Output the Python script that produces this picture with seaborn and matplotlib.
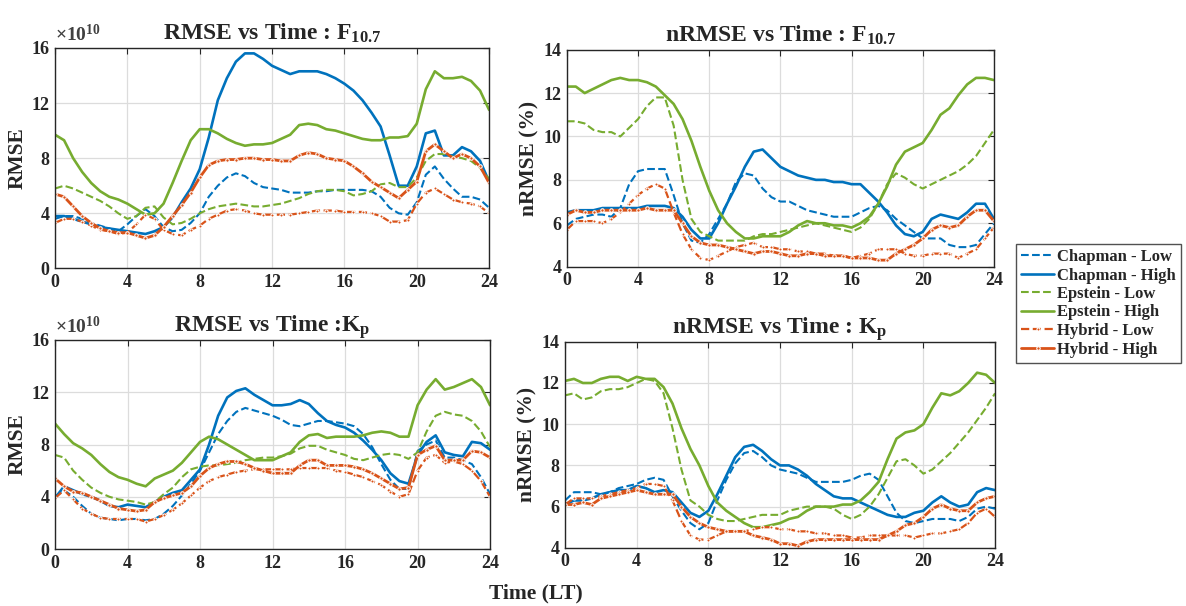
import numpy as np
import pandas as pd
import matplotlib
matplotlib.use("Agg")
import matplotlib.pyplot as plt
import seaborn as sns

# ---------------- data (half-hour steps, 0 .. 24 LT) ----------------
time_lt = np.arange(0, 24.5, 0.5)
series_names = ["Chapman - Low", "Chapman - High", "Epstein - Low",
                "Epstein - High", "Hybrid - Low", "Hybrid - High"]

# Panel 1: RMSE vs Time : F10.7  (x 1e10)
p1_chap_low = [3.6,3.8,3.8,3.6,3.3,3.1,2.9,2.7,3.2,3.8,
               4.3,3.8,3.0,2.7,2.8,3.3,4.0,5.2,6.0,6.6,
               6.9,6.7,6.2,5.9,5.8,5.7,5.5,5.5,5.5,5.6,
               5.6,5.7,5.7,5.7,5.7,5.6,5.2,4.4,4.0,3.9,
               4.8,6.8,7.4,6.5,5.8,5.2,5.2,5.0,4.4]
p1_chap_high = [3.8,3.8,3.6,3.4,3.2,3.0,2.9,2.8,2.7,2.6,
                2.5,2.7,3.0,3.7,4.8,5.8,7.2,9.5,12.2,13.8,
                15.0,15.6,15.6,15.2,14.7,14.4,14.1,14.3,14.3,14.3,
                14.1,13.8,13.4,12.9,12.2,11.3,10.3,8.2,6.0,6.0,
                7.4,9.8,10.0,8.2,8.2,8.8,8.5,7.8,6.3]
p1_eps_low = [5.8,6.0,5.8,5.5,5.2,4.9,4.5,4.0,3.6,3.8,
              4.4,4.5,3.7,3.2,3.3,3.6,4.0,4.3,4.5,4.6,
              4.7,4.6,4.5,4.5,4.6,4.7,4.9,5.1,5.4,5.6,
              5.7,5.7,5.6,5.3,5.4,5.6,6.1,6.2,5.9,5.9,
              6.6,7.8,8.3,8.3,8.1,8.0,7.8,7.3,6.5]
p1_eps_high = [9.7,9.3,8.0,7.0,6.2,5.6,5.2,5.0,4.7,4.3,
               3.9,4.0,4.7,6.2,7.8,9.3,10.1,10.1,9.8,9.4,
               9.1,8.9,9.0,9.0,9.1,9.4,9.7,10.4,10.5,10.4,
               10.1,10.0,9.8,9.6,9.4,9.3,9.3,9.5,9.5,9.6,
               10.5,13.0,14.3,13.8,13.8,13.9,13.6,12.9,11.5]
p1_hyb_low = [3.3,3.6,3.6,3.4,3.1,2.8,2.7,2.5,2.6,3.2,
              3.9,3.6,2.8,2.5,2.4,2.8,3.1,3.6,3.9,4.2,
              4.3,4.2,4.0,3.9,3.9,3.9,3.9,4.0,4.1,4.2,
              4.2,4.2,4.1,4.1,4.1,4.0,3.8,3.4,3.4,3.5,
              4.7,5.5,5.8,5.4,5.0,4.8,4.7,4.5,4.0]
p1_hyb_high = [5.4,5.2,4.5,3.8,3.3,2.9,2.7,2.6,2.6,2.4,
               2.2,2.4,3.0,3.8,4.6,5.5,6.6,7.5,7.8,7.9,
               7.9,8.0,8.0,7.9,7.9,7.8,7.8,8.2,8.4,8.3,
               8.0,7.9,7.8,7.4,6.9,6.3,5.9,5.5,5.1,5.7,
               6.3,8.5,9.0,8.5,8.0,8.3,8.0,7.4,6.2]

# Panel 2: nRMSE vs Time : F10.7  (%)
p2_chap_low = [5.9,6.2,6.3,6.4,6.4,6.3,6.7,7.8,8.4,8.5,
               8.5,8.5,7.3,6.0,5.2,5.1,5.5,6.2,6.9,7.9,
               8.3,8.2,7.6,7.2,7.0,7.0,6.8,6.6,6.5,6.4,
               6.3,6.3,6.3,6.5,6.7,6.8,6.6,6.2,5.9,5.6,
               5.3,5.3,5.3,5.0,4.9,4.9,5.0,5.5,6.0]
p2_chap_high = [6.5,6.6,6.6,6.6,6.7,6.7,6.7,6.7,6.7,6.8,
                6.8,6.8,6.7,6.3,5.7,5.3,5.3,6.0,6.9,7.7,
                8.6,9.3,9.4,9.0,8.6,8.4,8.2,8.1,8.0,8.0,
                7.9,7.9,7.8,7.8,7.4,7.0,6.5,5.9,5.5,5.4,
                5.6,6.2,6.4,6.3,6.2,6.5,6.9,6.9,6.2]
p2_eps_low = [10.7,10.7,10.6,10.3,10.2,10.2,10.0,10.4,10.8,11.4,
              11.8,11.8,10.5,8.0,6.2,5.6,5.4,5.2,5.2,5.2,
              5.2,5.4,5.5,5.5,5.6,5.7,5.8,5.9,6.0,5.9,
              5.8,5.7,5.6,5.8,6.2,6.9,7.8,8.3,8.1,7.8,
              7.6,7.8,8.0,8.2,8.4,8.7,9.1,9.7,10.3]
p2_eps_high = [12.3,12.3,12.0,12.2,12.4,12.6,12.7,12.6,12.6,12.5,
               12.3,11.9,11.5,10.8,9.8,8.6,7.5,6.6,6.0,5.6,
               5.3,5.3,5.4,5.4,5.4,5.6,5.9,6.1,6.0,6.0,
               5.9,5.9,5.8,6.0,6.3,6.9,7.7,8.7,9.3,9.5,
               9.7,10.3,11.0,11.3,11.9,12.4,12.7,12.7,12.6]
p2_hyb_low = [5.7,6.1,6.1,6.1,6.0,6.2,6.5,6.9,7.3,7.6,
              7.8,7.6,6.5,5.5,4.8,4.4,4.3,4.5,4.7,4.9,
              5.0,5.1,4.9,4.9,4.8,4.8,4.7,4.7,4.6,4.6,
              4.5,4.5,4.4,4.5,4.6,4.8,4.8,4.8,4.6,4.5,
              4.5,4.6,4.6,4.6,4.4,4.6,4.8,5.3,5.8]
p2_hyb_high = [6.4,6.6,6.5,6.5,6.6,6.6,6.6,6.6,6.6,6.7,
               6.6,6.6,6.6,6.0,5.4,5.1,5.0,5.0,4.9,4.8,
               4.7,4.6,4.7,4.7,4.6,4.5,4.5,4.6,4.6,4.5,
               4.5,4.5,4.4,4.4,4.4,4.3,4.3,4.6,4.8,5.0,
               5.3,5.7,5.9,5.8,5.9,6.3,6.6,6.6,6.1]

# Panel 3: RMSE vs Time : Kp  (x 1e10)
p3_chap_low = [4.0,4.5,4.0,3.3,2.7,2.4,2.3,2.2,2.3,2.3,
               2.2,2.3,2.7,3.3,4.1,5.0,6.0,7.4,8.8,9.8,
               10.5,10.8,10.6,10.4,10.2,9.9,9.5,9.4,9.6,9.8,
               9.8,9.7,9.6,9.4,8.8,7.8,6.5,5.3,4.6,4.6,
               7.5,8.0,8.3,7.0,7.0,6.8,6.5,5.5,4.2]
p3_chap_high = [3.9,4.8,4.5,4.2,4.0,3.7,3.3,3.2,3.4,3.3,
                3.2,3.6,4.0,4.3,4.5,5.3,6.1,8.0,10.2,11.6,
                12.1,12.3,11.8,11.4,11.0,11.0,11.1,11.4,11.1,10.4,
                9.8,9.5,9.3,8.9,8.3,7.6,6.8,5.8,5.2,5.0,
                7.2,8.2,8.7,7.4,7.2,7.1,8.2,8.1,7.6]
p3_eps_low = [7.2,7.0,6.0,5.3,4.7,4.3,4.0,3.8,3.7,3.6,
              3.4,3.6,4.2,4.7,5.5,6.1,6.3,6.4,6.4,6.5,
              6.6,6.8,6.9,7.0,7.0,7.1,7.3,7.7,7.9,7.9,
              7.6,7.4,7.2,6.9,6.8,7.0,7.2,7.3,7.2,6.9,
              7.4,9.0,10.2,10.5,10.3,10.2,9.8,9.0,7.8]
p3_eps_high = [9.6,8.8,8.1,7.7,7.2,6.5,5.9,5.5,5.3,5.0,
               4.8,5.4,5.7,6.0,6.6,7.4,8.2,8.6,8.4,8.0,
               7.6,7.2,6.8,6.8,6.8,7.1,7.4,8.2,8.7,8.8,
               8.5,8.6,8.6,8.6,8.7,8.9,9.0,8.9,8.6,8.6,
               11.0,12.2,13.0,12.2,12.4,12.7,13.0,12.4,11.0]
p3_hyb_low = [3.9,4.5,3.8,3.1,2.7,2.4,2.3,2.3,2.3,2.3,
              2.1,2.3,2.6,3.0,3.5,4.1,4.7,5.2,5.5,5.7,
              5.9,6.0,6.1,6.1,6.1,6.1,6.1,6.2,6.2,6.2,
              6.2,6.0,5.9,5.7,5.5,5.2,4.9,4.4,4.0,4.2,
              6.0,7.0,7.2,6.6,6.7,6.5,6.0,5.2,4.0]
p3_hyb_high = [5.4,4.8,4.4,4.3,4.0,3.7,3.4,3.1,3.0,2.9,
               3.0,3.6,3.9,4.1,4.3,4.8,5.6,6.2,6.5,6.7,
               6.7,6.5,6.2,6.0,5.8,5.8,5.8,6.4,6.8,6.8,
               6.4,6.4,6.4,6.3,6.1,5.8,5.4,5.0,4.6,4.7,
               7.2,7.6,7.9,6.8,6.8,6.8,7.5,7.4,7.0]

# Panel 4: nRMSE vs Time : Kp  (%)
p4_chap_low = [6.3,6.7,6.7,6.7,6.6,6.7,6.9,7.0,7.1,7.3,
               7.4,7.3,6.5,5.8,5.2,4.9,5.2,6.3,7.3,8.1,
               8.6,8.7,8.4,8.0,7.8,7.7,7.6,7.4,7.2,7.2,
               7.2,7.2,7.3,7.5,7.6,7.3,6.5,5.7,5.3,5.2,
               5.3,5.4,5.4,5.4,5.3,5.5,5.9,6.0,5.9]
p4_chap_high = [6.1,6.3,6.3,6.4,6.6,6.7,6.8,6.8,7.0,6.9,
                6.7,6.8,6.7,6.2,5.7,5.5,5.8,6.6,7.5,8.4,
                8.9,9.0,8.7,8.3,8.0,8.0,7.8,7.5,7.1,6.8,
                6.5,6.4,6.4,6.2,6.0,5.8,5.6,5.5,5.5,5.7,
                5.8,6.2,6.5,6.2,6.0,6.1,6.7,6.9,6.8]
p4_eps_low = [11.4,11.5,11.2,11.3,11.6,11.7,11.7,11.8,12.0,12.2,
              12.1,11.5,9.8,7.8,6.3,6.0,5.6,5.4,5.3,5.3,
              5.4,5.5,5.6,5.6,5.6,5.8,5.9,6.0,6.0,6.0,
              5.9,5.6,5.4,5.6,6.0,6.6,7.4,8.2,8.3,8.0,
              7.6,7.8,8.2,8.6,9.1,9.6,10.2,10.8,11.5]
p4_eps_high = [12.1,12.2,12.0,12.0,12.2,12.3,12.3,12.1,12.3,12.2,
               12.2,11.8,11.0,9.8,8.8,8.0,7.0,6.2,5.8,5.5,
               5.2,5.0,5.0,5.1,5.2,5.4,5.5,5.8,6.0,6.0,
               6.0,6.1,6.1,6.3,6.7,7.2,8.3,9.3,9.6,9.7,
               10.0,10.8,11.5,11.4,11.6,12.0,12.5,12.4,12.0]
p4_hyb_low = [6.1,6.4,6.4,6.4,6.5,6.6,6.7,6.8,6.9,7.1,
              7.1,7.0,6.3,5.3,4.6,4.4,4.4,4.6,4.8,4.8,
              4.8,4.9,5.0,5.0,4.9,4.9,4.8,4.8,4.7,4.7,
              4.6,4.6,4.5,4.5,4.6,4.6,4.6,4.6,4.6,4.5,
              4.6,4.7,4.7,4.8,4.9,5.2,5.7,5.9,5.5]
p4_hyb_high = [6.1,6.1,6.2,6.1,6.4,6.5,6.6,6.7,6.8,6.7,
               6.6,6.6,6.6,6.0,5.5,5.2,5.0,4.9,4.8,4.8,
               4.8,4.6,4.5,4.4,4.2,4.2,4.1,4.3,4.4,4.4,
               4.4,4.4,4.4,4.4,4.4,4.4,4.6,4.8,5.1,5.2,
               5.5,5.9,6.1,5.9,5.8,5.8,6.2,6.4,6.5]

x_ticks = [0, 4, 8, 12, 16, 20, 24]
rmse_ticks = [0, 4, 8, 12, 16]
nrmse_ticks = [4, 6, 8, 10, 12, 14]

titles = [r"RMSE vs Time : F$_{\mathbf{10.7}}$",
          r"nRMSE vs Time : F$_{\mathbf{10.7}}$",
          r"RMSE vs Time :K$_{\mathbf{p}}$",
          r"nRMSE vs Time : K$_{\mathbf{p}}$"]

panels = [
    [p1_chap_low, p1_chap_high, p1_eps_low, p1_eps_high, p1_hyb_low, p1_hyb_high],
    [p2_chap_low, p2_chap_high, p2_eps_low, p2_eps_high, p2_hyb_low, p2_hyb_high],
    [p3_chap_low, p3_chap_high, p3_eps_low, p3_eps_high, p3_hyb_low, p3_hyb_high],
    [p4_chap_low, p4_chap_high, p4_eps_low, p4_eps_high, p4_hyb_low, p4_hyb_high],
]

# ---------------- styles ----------------
BLUE, GREEN, RED = "#0072BD", "#77AC30", "#D95319"
styles = [
    dict(color=BLUE, linestyle="--", linewidth=1.5),
    dict(color=BLUE, linestyle="-", linewidth=1.9),
    dict(color=GREEN, linestyle="--", linewidth=1.5),
    dict(color=GREEN, linestyle="-", linewidth=1.9),
    dict(color=RED, linestyle="--", linewidth=1.6, marker=".", markersize=4.5),
    dict(color=RED, linestyle="-", linewidth=2.0, marker=".", markersize=5),
]

sns.set_theme(style="white")
plt.rcParams["font.family"] = ["Liberation Serif", "DejaVu Serif"]
plt.rcParams["font.weight"] = "bold"
plt.rcParams["mathtext.fontset"] = "custom"
plt.rcParams["mathtext.rm"] = "Liberation Serif"
plt.rcParams["mathtext.bf"] = "Liberation Serif:bold"
plt.rcParams["mathtext.it"] = "Liberation Serif:italic"

fig = plt.figure(figsize=(11.86, 6.06), dpi=100)
positions = [
    [0.0464, 0.557, 0.3660, 0.364],
    [0.4780, 0.560, 0.3600, 0.358],
    [0.0464, 0.094, 0.3668, 0.345],
    [0.4764, 0.096, 0.3626, 0.340],
]

axes = []
for i, (pos, data) in enumerate(zip(positions, panels)):
    ax = fig.add_axes(pos)
    axes.append(ax)
    for name, vals, st in zip(series_names, data, styles):
        df = pd.DataFrame({"Time": time_lt, "Value": vals})
        sns.lineplot(data=df, x="Time", y="Value", ax=ax, label=name, **st)
    ax.set_xlim(0, 24)
    ax.set_xticks(x_ticks)
    if i in (0, 2):
        ax.set_ylim(0, 16)
        ax.set_yticks(rmse_ticks)
        ax.set_ylabel("RMSE", fontsize=15.5, fontweight="bold", labelpad=3)
        ax.text(0.0, 1.012, r"$\times10^{10}$", transform=ax.transAxes,
                fontsize=14, color="#404040", ha="left", va="bottom")
    else:
        ax.set_ylim(4, 14)
        ax.set_yticks(nrmse_ticks)
        ax.set_ylabel("nRMSE (%)", fontsize=15.5, fontweight="bold", labelpad=3)
    ax.set_xlabel("")
    ax.set_title(titles[i], fontsize=17, fontweight="bold", pad=6)
    ax.grid(True, color="#dcdcdc", linewidth=0.9)
    ax.tick_params(direction="in", top=True, right=True, length=4,
                   labelsize=13, width=0.8, color="#262626", pad=4)
    for lab in ax.get_xticklabels() + ax.get_yticklabels():
        lab.set_fontweight("bold")
    for sp in ax.spines.values():
        sp.set_color("#262626")
        sp.set_linewidth(1.0)
    ax.get_legend().remove()

handles, labels = axes[0].get_legend_handles_labels()
leg = fig.legend(handles, labels, loc="upper left",
                 bbox_to_anchor=(1016 / 1186, 1 - 244 / 606),
                 fontsize=12, frameon=True, fancybox=False,
                 handlelength=2.0, handletextpad=0.15, labelspacing=0.15,
                 borderpad=0.3, borderaxespad=0)
leg.get_frame().set_edgecolor("#262626")
leg.get_frame().set_linewidth(1.0)
for t in leg.get_texts():
    t.set_fontweight("bold")

fig.text(0.452, 0.021, "Time (LT)", ha="center", va="center",
         fontsize=15.5, fontweight="bold")

fig.savefig("out.png", dpi=100)
